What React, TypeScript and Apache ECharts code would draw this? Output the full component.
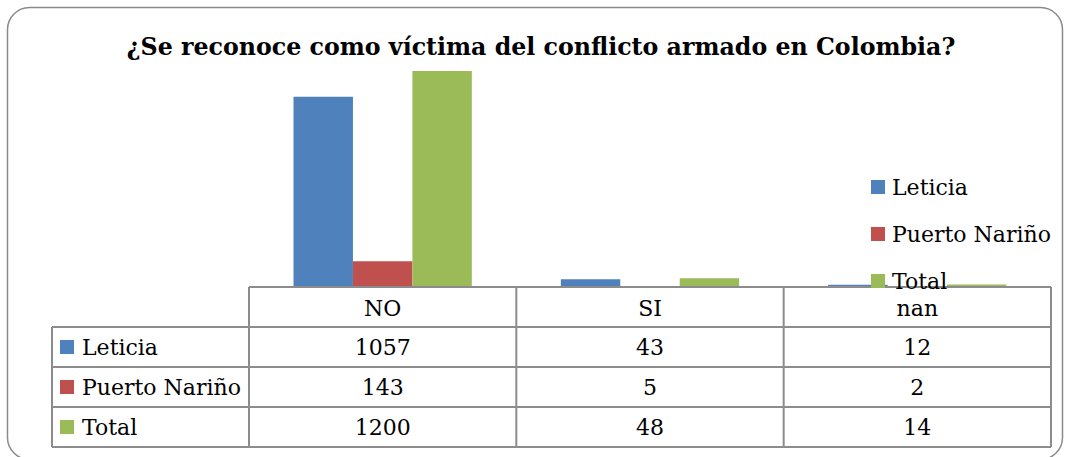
import React, { useEffect, useRef } from "react";
import * as echarts from "echarts";

const TITLE = "¿Se reconoce como víctima del conflicto armado en Colombia?";
const categories = ["NO", "SI", "nan"];
const seriesNames = ["Leticia", "Puerto Nariño", "Total"];
const leticia = [1057, 43, 12];
const puertoNarino = [143, 5, 2];
const total = [1200, 48, 14];
const colors = ["#4F81BD", "#C0504D", "#9BBB59"];

const W = 1065;
const H = 457;
const FONT = "'DejaVu Serif', serif";

// layout
const plotLeft = 249;
const plotRight = 1051;
const baseY = 287;
const tableLeft = 52;
const rowH = 40;
const gridTop = 35;

export default function App() {
  const ref = useRef<HTMLDivElement>(null);

  useEffect(() => {
    if (!ref.current) return;
    const chart = echarts.init(ref.current, null, { renderer: "svg", width: W, height: H });
    const seriesData = [leticia, puertoNarino, total];
    const colW = (plotRight - plotLeft) / categories.length;
    const lineColor = "#8c8c8c";
    const lw = 2;

    const graphic: any[] = [];
    // outer rounded border
    graphic.push({
      type: "rect",
      shape: { x: 7.5, y: 7.5, width: 1055, height: 452, r: 22 },
      style: { fill: "none", stroke: "#8a8a8a", lineWidth: 1.5 },
      z: 0,
    });
    // title
    graphic.push({
      type: "text",
      x: 541,
      y: 47,
      style: {
        text: TITLE,
        fontFamily: FONT,
        fontWeight: "bold",
        fontSize: 23.7,
        fill: "#000",
        align: "center",
        verticalAlign: "middle",
      },
    });
    const bottomY = baseY + rowH * (seriesNames.length + 1);
    // horizontal lines
    graphic.push({
      type: "line",
      shape: { x1: plotLeft, y1: baseY, x2: plotRight, y2: baseY },
      style: { stroke: lineColor, lineWidth: lw },
      z: 10,
    });
    for (let r = 1; r <= seriesNames.length + 1; r++) {
      const y = baseY + r * rowH;
      graphic.push({
        type: "line",
        shape: { x1: tableLeft, y1: y, x2: plotRight, y2: y },
        style: { stroke: lineColor, lineWidth: lw },
        z: 10,
      });
    }
    // vertical lines
    graphic.push({
      type: "line",
      shape: { x1: tableLeft, y1: baseY + rowH, x2: tableLeft, y2: bottomY },
      style: { stroke: lineColor, lineWidth: lw },
      z: 10,
    });
    for (let c = 0; c <= categories.length; c++) {
      const x = plotLeft + c * colW;
      graphic.push({
        type: "line",
        shape: { x1: x, y1: baseY, x2: x, y2: bottomY },
        style: { stroke: lineColor, lineWidth: lw },
        z: 10,
      });
    }
    // header
    categories.forEach((cat, c) => {
      graphic.push({
        type: "text",
        x: plotLeft + (c + 0.5) * colW,
        y: baseY + rowH / 2 + 1,
        style: { text: cat, fontFamily: FONT, fontSize: 22, fill: "#000", align: "center", verticalAlign: "middle" },
        z: 11,
      });
    });
    // rows
    seriesNames.forEach((name, r) => {
      const cy = baseY + (r + 1.5) * rowH;
      graphic.push({
        type: "rect",
        shape: { x: 60, y: cy - 7, width: 14, height: 14 },
        style: { fill: colors[r] },
        z: 11,
      });
      graphic.push({
        type: "text",
        x: 82,
        y: cy,
        style: { text: name, fontFamily: FONT, fontSize: 22, fill: "#000", align: "left", verticalAlign: "middle" },
        z: 11,
      });
      seriesData[r].forEach((v, c) => {
        graphic.push({
          type: "text",
          x: plotLeft + (c + 0.5) * colW,
          y: cy,
          style: { text: String(v), fontFamily: FONT, fontSize: 22, fill: "#000", align: "center", verticalAlign: "middle" },
          z: 11,
        });
      });
    });

    chart.setOption({
      animation: false,
      backgroundColor: "#fff",
      grid: { left: plotLeft, right: W - plotRight, top: gridTop, bottom: H - baseY, containLabel: false },
      xAxis: {
        type: "category",
        data: categories,
        axisLine: { show: false },
        axisTick: { show: false },
        axisLabel: { show: false },
        splitLine: { show: false },
      },
      yAxis: {
        type: "value",
        min: 0,
        max: 1400,
        show: false,
        splitLine: { show: false },
      },
      legend: {
        orient: "vertical",
        left: 866,
        top: 170,
        itemWidth: 14,
        itemHeight: 14,
        itemGap: 23,
        icon: "rect",
        z: 20,
        textStyle: { fontFamily: FONT, fontSize: 22, color: "#000", lineHeight: 24, padding: [0, 0, 0, 2] },
        data: seriesNames,
      },
      series: seriesNames.map((name, i) => ({
        name,
        type: "bar",
        data: seriesData[i],
        barGap: "0%",
        barCategoryGap: "33.3%",
        itemStyle: { color: colors[i] },
      })),
      graphic,
    });

    return () => chart.dispose();
  }, []);

  return (
    <div
      ref={ref}
      style={{ position: "fixed", left: 0, top: 0, width: W, height: H }}
    />
  );
}
